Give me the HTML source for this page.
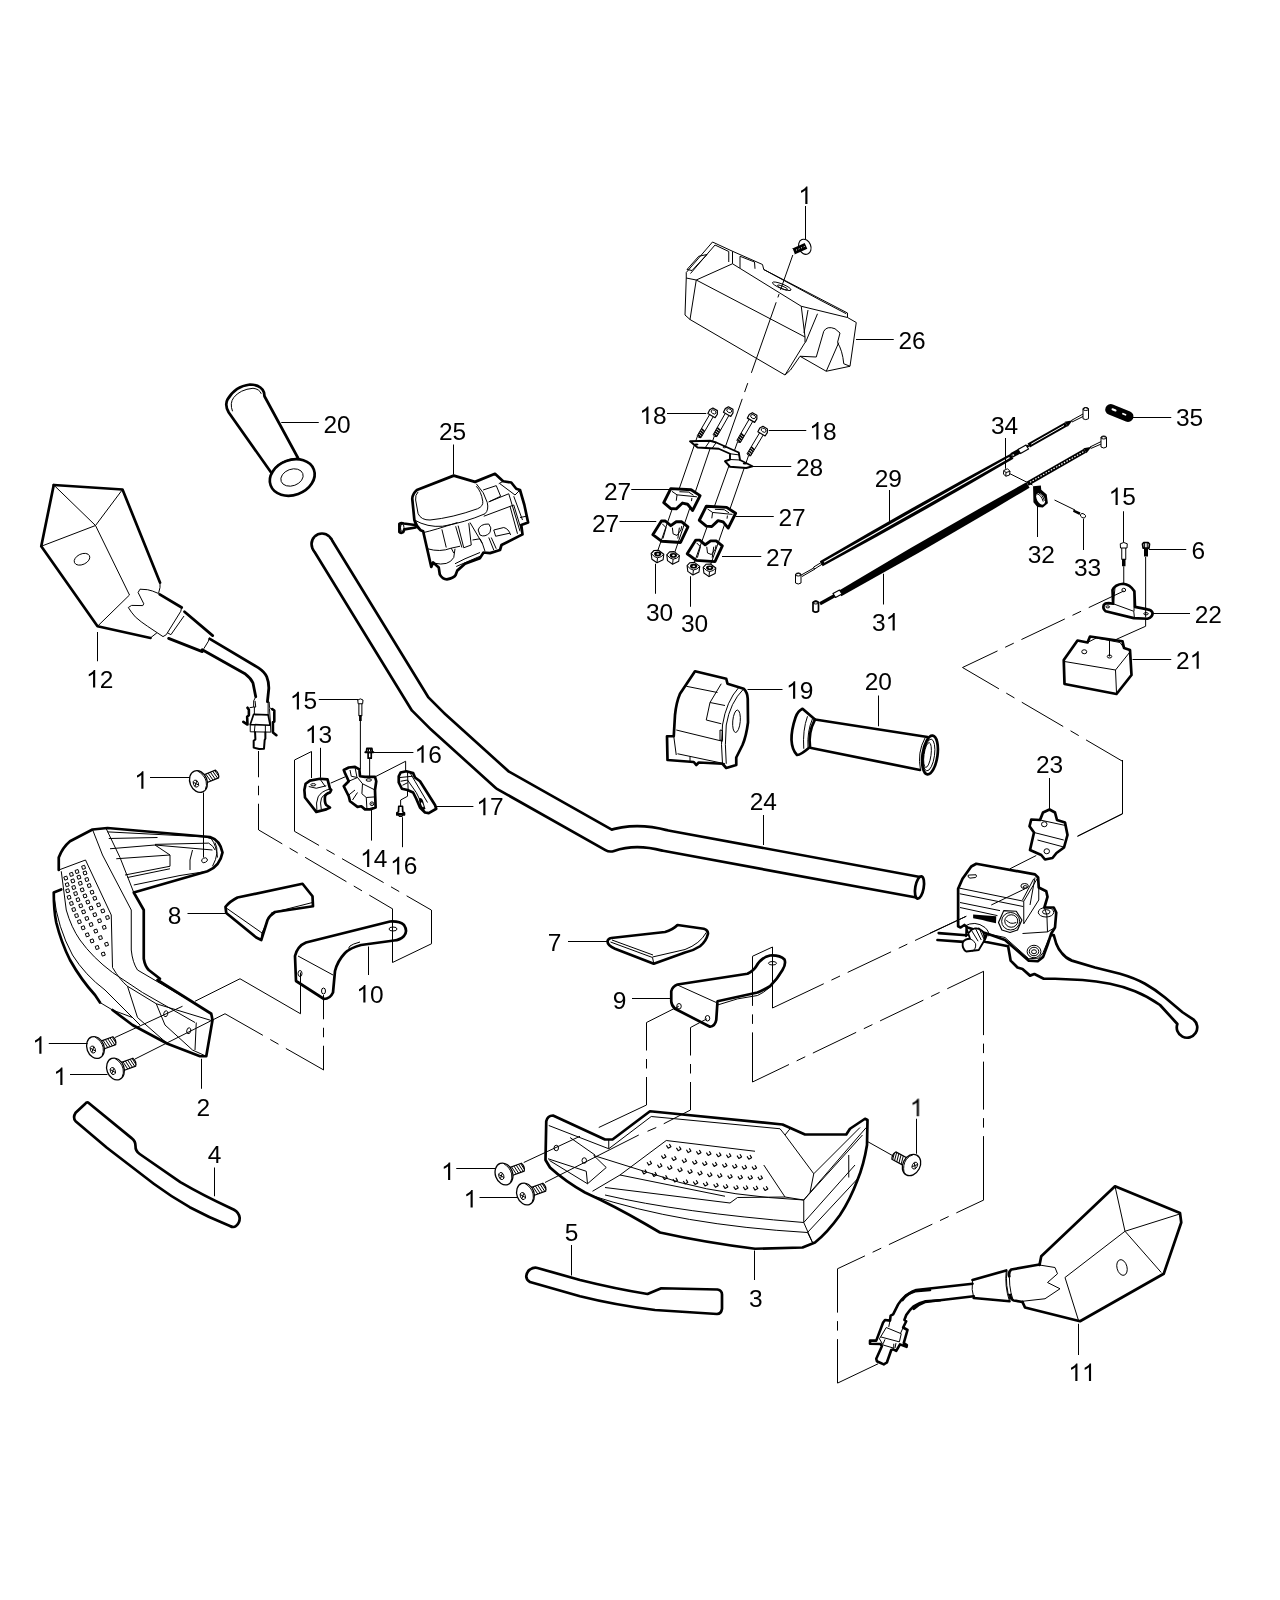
<!DOCTYPE html>
<html><head><meta charset="utf-8"><title>Parts diagram</title>
<style>
html,body{margin:0;padding:0;background:#fff}
body{width:1280px;height:1600px;overflow:hidden;font-family:"Liberation Sans",sans-serif}
svg{display:block}
.k{fill:none;stroke:#000;stroke-width:2.7;stroke-linejoin:round;stroke-linecap:round;vector-effect:non-scaling-stroke}
.m{fill:none;stroke:#000;stroke-width:1.7;stroke-linejoin:round;stroke-linecap:round;vector-effect:non-scaling-stroke}
.n{fill:none;stroke:#000;stroke-width:1;stroke-linejoin:round;vector-effect:non-scaling-stroke}
.d{fill:none;stroke:#000;stroke-width:1;stroke-dasharray:46 9 10 9;vector-effect:non-scaling-stroke}
.dd{fill:none;stroke:#000;stroke-width:1;stroke-dasharray:26 8;vector-effect:non-scaling-stroke}
.w{fill:#fff}
.f{fill:#000;stroke:none}
text{font-family:"Liberation Sans",sans-serif;font-size:24.5px;fill:#000}
</style></head><body>
<svg width="1280" height="1600" viewBox="0 0 1280 1600">
<rect x="0" y="0" width="1280" height="1600" fill="#fff"/>
<!-- 00_defs.svg -->
<defs>
<!-- screw: head at origin, thread along +x -->
<g id="screw">
 <path class="n w" d="M5,-4.2 L20,-4.2 Q22.5,0 20,4.2 L5,4.2 Z" style="stroke-width:1.2"/>
 <path class="n" d="M9.5,-4.2 L11.5,4.2 M12,-4.2 L14,4.2 M14.5,-4.2 L16.5,4.2 M17,-4.2 L19,4.2 M19.3,-3.6 L20.8,2.8"/>
 <ellipse class="n w" cx="0" cy="0" rx="8.6" ry="11.2" style="stroke-width:1.3"/>
 <path class="n" d="M3,-10.2 Q8,-4 7.2,2.5 Q6.5,7 3.5,9.8"/>
 <ellipse class="n" cx="-3.2" cy="1" rx="2.5" ry="3.7"/>
 <path class="n" d="M-5,-1.2 L-1.4,3.2 M-5,3.2 L-1.4,-1.2"/>
</g>
</defs>

<!-- 10_mirror12.svg -->
<g transform="translate(30,470) scale(0.25)">
 <path class="k" d="M95,60 L370,78 L520,450"/>
 <path class="k" d="M95,60 L45,305 L270,625 L482,672"/>
 <path class="n" d="M95,60 L262,222 L370,78 M45,305 L262,222 L398,500 L270,625 M520,450 L520,470 L514,494"/>
 <ellipse class="n" cx="208" cy="357" rx="33" ry="21" transform="rotate(-25 208 357)"/>
</g>
<!-- ball cover, boot (1x coords) -->
<path class="n" d="M158.3,593.4 Q152,590.5 147.5,589.7 L140,589.2 L138.1,592.5 L143.75,603.75 L142.8,605.6 L131.6,605.4 L128.3,607.5 Q131,612 135.3,616.9 Q141,622 147.5,626.25 L163,636.6 L166.25,634.7 L180.8,611.25 L181.7,607 M150.3,638 L156.9,632.8 M184,616 L170.9,634.7 L167.5,632.8"/>
<path class="k" d="M159.7,594.4 L181.7,607.5 M184.5,611.7 L212.7,635.6 M168.6,638.4 L202.3,651.6" style="stroke-width:2.8"/>
<path class="n" d="M209.4,637.5 L208.4,641.2 L203.75,648.75"/>
<g transform="translate(220,650) scale(0.06873)">
 <path class="k" d="M-148,-162 L560,260 Q650,320 680,390 Q712,470 710,560 L690,750 M-258,-5 L370,350 Q450,410 480,480 L520,680" style="stroke-width:2.8"/>
 <path class="n" d="M520,680 L490,740 L490,830 L520,830 L510,740 M690,750 L715,755 L720,840 L760,860 M440,1085 L440,1190 L740,1195 L735,1095 M510,1085 L500,1190 M660,1095 L660,1195 M500,830 L500,935 M700,755 L700,945 M430,840 L490,830 M720,850 L735,1095"/>
 <path class="k" d="M400,840 L420,870 L420,950 L395,970 L400,1085 L340,1045 M760,860 L790,880 L790,1040 L770,1050 L770,1200 L820,1240" style="stroke-width:2.6"/>
 <path class="m" d="M490,935 L700,945 L730,1095 L440,1085 Z"/>
 <path class="k" d="M510,1195 L515,1300 L490,1320 L490,1420 L570,1440 L640,1435 L650,1310 L660,1290 L660,1195" style="stroke-width:2"/>
</g>
<use href="#screw" transform="translate(198.5,781.5) rotate(-22)"/>

<!-- 11_grip20a.svg -->
<g transform="translate(200,360) scale(0.25)">
 <path class="k" d="M288,455 L115,210 Q98,180 110,158 Q140,105 200,98 Q245,100 256,130 L258,145 L392,392"/>
 <path class="n" d="M130,205 Q118,172 135,150 Q160,118 212,113 Q238,116 245,135"/>
 <ellipse class="k w" cx="369" cy="470" rx="92" ry="70" transform="rotate(-20 369 470)"/>
 <ellipse class="n" cx="368" cy="470" rx="46" ry="33" transform="rotate(-20 368 470)"/>
 <path class="n" d="M292,440 Q320,398 392,392"/>
</g>

<!-- 12_handlebar.svg -->
<g>
 <path d="M322,544 L420,703.75 L437.5,721.25 L502.5,780 L610.6,841 Q635,832.5 665,840.5 L919.5,887.5" fill="none" stroke="#000" stroke-width="23.6" stroke-linecap="butt" stroke-linejoin="round"/>
 <circle cx="322" cy="544" r="11.8" fill="#000"/>
 <path d="M322,544 L420,703.75 L437.5,721.25 L502.5,780 L610.6,841 Q635,832.5 665,840.5 L919.5,887.5" fill="none" stroke="#fff" stroke-width="18.3" stroke-linecap="butt" stroke-linejoin="round"/>
 <circle cx="322" cy="544" r="9.15" fill="#fff"/>
 <ellipse cx="919.5" cy="887.5" rx="4.2" ry="11.3" transform="rotate(10 919.5 887.5)" class="k w"/>
</g>

<!-- 13_part25.svg -->
<g transform="translate(390,440) scale(0.125)">
 <path class="k w" d="M510,285 L215,400 Q180,430 178,470 L195,640 Q210,690 245,722 L265,730 L330,1015 L345,980 L390,1020 L398,1075 Q420,1115 455,1115 Q510,1105 525,1080 L538,1045 L600,990 L720,945 L748,900 L800,905 L880,880 L892,840 L1060,755 L1050,680 L1105,660 L1075,520 L1040,400 L1010,390 L970,340 L905,330 L840,270 L680,335 Z"/>
 <path class="k w" d="M205,700 L115,715 L105,738 Q90,748 75,735 L75,670 Q90,660 110,668 L200,680"/>
 <ellipse class="n" cx="98" cy="702" rx="14" ry="30"/>
 <path class="n" d="M690,370 Q730,410 742,490 Q748,530 700,550 Q500,622 320,640 Q250,642 225,590 L205,480 Q200,440 225,415"/>
 <path class="n" d="M195,640 Q300,700 420,690 Q600,660 760,590 Q792,560 778,500 Q758,420 690,350"/>
 <path class="n" d="M270,740 Q350,722 540,660 M415,715 L450,860 M525,690 L575,860 M545,685 L590,862 L650,840 L630,665 M640,660 L740,830 M300,870 Q400,900 490,865 L560,850 M350,985 Q470,1012 510,940 L520,870 M490,865 L510,905"/>
 <path class="n" d="M705,720 Q720,670 790,672 Q818,700 800,740 Q760,782 720,760 Z"/>
 <path class="n" d="M830,720 L910,700 Q950,710 965,760 M830,720 L845,770 L960,745"/>
 <path class="n" d="M745,400 L850,365 L885,450 L790,495 M790,495 L950,430 L1040,730 M750,610 L990,520 L1060,750 M960,530 L1020,750 M870,350 L905,330 M880,350 L1000,440 L1040,400 M990,450 L1060,640 M1040,620 L1090,610"/>
 <path class="n" d="M520,990 L600,950 L720,900 M530,1012 L720,930 M790,780 L830,880 M810,780 L850,870 M740,830 L760,890 M660,800 L720,790 L740,830"/>
</g>

<!-- 14_part26.svg -->
<g transform="translate(660,170) scale(0.25)">
 <path class="n" d="M210,288 L105,410 L105,432 L145,440 L290,375 L290,325 Z"/>
 <path class="n" d="M220,300 L122,414 M220,300 L275,326 L275,368"/>
 <path class="n" d="M155,345 L188,338 L128,402 L108,398 Z"/>
 <path class="n" d="M290,325 L410,378 L415,398 L750,572 L750,590 L785,610 L760,785 L665,805 L560,745"/>
 <path class="n" d="M320,345 L320,392 M320,345 L378,368 L380,395"/>
 <path class="n" d="M105,432 L100,580 L120,598 L500,820 L580,690 L580,668 L145,440 L120,598"/>
 <path class="n" d="M500,820 L522,800 L560,745 L625,748"/>
 <path class="n" d="M290,375 L565,545 L750,590 M565,545 L580,668 M592,560 L576,652 M630,575 L582,690 M415,398 L640,520 L745,575"/>
 <ellipse class="n" cx="487" cy="465" rx="40" ry="9" transform="rotate(22 487 465)"/>
 <ellipse class="n" cx="490" cy="470" rx="22" ry="5" transform="rotate(22 490 470)"/>
 <path class="n" d="M625,748 L655,645 Q668,622 700,635 L720,652 L710,690 Q730,722 735,775 L760,785 M665,805 L715,690"/>
</g>
<ellipse class="n w" cx="804.8" cy="246.8" rx="6" ry="7.8" transform="rotate(-22 804.8 246.8)" style="stroke-width:1.1"/>
<path d="M793.2,251.6 L806,245.8" stroke="#000" stroke-width="6.4" fill="none"/>
<path d="M792.2,249 L794.2,254.4" stroke="#fff" stroke-width="1.3" fill="none"/>
<path d="M796,250.2 L806.5,245.6" stroke="#fff" stroke-width="1" stroke-dasharray="1 1.8" fill="none"/>
<path class="n" style="stroke-dasharray:37 4.4 3.6 5.1 74.8 10.9 9.5 7.2 60" d="M792.8,255 L725.3,447"/>

<!-- 15_clamps.svg -->
<defs>
 <g id="bolt18">
  <path class="n w" d="M-2.1,2 L-2.1,27 Q0,29 2.1,27 L2.1,2 Z"/>
  <path class="n" d="M-2.1,19 L2.1,20 M-2.1,21.3 L2.1,22.3 M-2.1,23.6 L2.1,24.6 M-2.1,25.9 L2.1,26.9" style="stroke-width:1.6"/>
  <path class="n w" d="M-4.4,-1.5 L-2.6,-4.6 L2.6,-4.6 L4.4,-1.5 L4.2,2.6 L-4.2,2.6 Z" style="stroke-width:1.2"/>
  <ellipse class="n" cx="0" cy="-1.6" rx="2.6" ry="1.8"/>
 </g>
 <g id="clampU">
  <path class="k w" d="M90,0 L350,15 L465,90 L370,280 L305,200 L240,185 L160,260 L90,255 L0,180 Z" style="stroke-width:2.9"/>
  <path class="n" d="M105,35 L170,80 L425,105 M170,80 L160,155 M360,120 L355,160 M200,40 L320,45 L380,85"/>
 </g>
 <g id="clampL">
  <path class="k w" d="M110,0 L160,0 L230,60 L300,10 L370,10 L450,75 L355,275 L115,260 L0,175 Z" style="stroke-width:2.9"/>
  <path class="n" d="M120,35 L170,85 L130,225 M250,85 L260,165 L310,185 L360,115 L370,65 M340,85 L320,225"/>
 </g>
 <g id="nut30">
  <path class="n w" d="M-6.3,-2.5 L-5.6,3.2 L-0.5,6.8 L5.6,3.8 L6.3,-1.8 L1,-5.8 L-3.5,-5.5 Z" style="stroke-width:1.1"/>
  <path class="n" d="M-6.3,-2.5 Q-3,1.5 0,1.8 Q4,1.5 6.3,-1.8 M-0.5,6.8 L0,1.8"/>
  <ellipse class="f" cx="0.2" cy="-2" rx="3.6" ry="2.4"/>
  <ellipse cx="0.4" cy="-2" rx="1.4" ry="0.8" fill="#fff"/>
 </g>
</defs>
<use href="#clampL" transform="translate(652.8,521) scale(0.078125)"/>
<use href="#clampL" transform="translate(687.2,540.1) scale(0.078125)"/>
<path class="n" d="M697.5,436 L656.25,555 M714.5,435.5 L673,557.5 M737.5,442 L692.5,567.5 M748.75,455 L708.75,570"/>
<!-- bracket 28 -->
<g transform="translate(580,380) scale(0.25)">
 <path class="k w" style="stroke-width:1.9" d="M440,245 L520,243 L545,250 L635,290 L640,320 L690,345 L665,352 L600,347 L580,325 L600,318 L600,295 L555,275 L470,270 Z"/>
 <path class="n" d="M520,243 L500,272 M545,250 L528,274 M600,295 L640,300 M600,318 L640,320"/>
 <ellipse class="f" cx="465" cy="258" rx="9" ry="4"/>
 <ellipse class="f" cx="660" cy="334" rx="9" ry="4"/>
 <ellipse class="n" cx="578" cy="268" rx="6" ry="3"/>
</g>
<use href="#bolt18" transform="translate(712.8,413.3) rotate(30.3)"/>
<use href="#bolt18" transform="translate(728.4,412.1) rotate(29.6)"/>
<use href="#bolt18" transform="translate(752.3,418) rotate(30.2)"/>
<use href="#bolt18" transform="translate(762.8,431.6) rotate(31)"/>
<use href="#clampU" transform="translate(663.75,488.6) scale(0.078125)"/>
<use href="#clampU" transform="translate(699.3,506.2) scale(0.078125)"/>
<use href="#nut30" transform="translate(657.5,556)"/>
<use href="#nut30" transform="translate(673.1,557.4)"/>
<use href="#nut30" transform="translate(693.4,568.2)"/>
<use href="#nut30" transform="translate(709.5,569.8)"/>

<!-- 16_cables.svg -->
<path class="f" d="M822.67,566.33 Q919.03,514.27 1013.42,458.73 L1010.58,453.67 Q914.22,505.73 819.83,561.27 Z"/>
<path d="M824,562.2 L1009.5,457.6" stroke="#fff" stroke-width="1.2" fill="none"/>
<path class="f" d="M841.35,596.29 Q936.45,543.72 1029.55,487.69 L1026.45,482.31 Q931.35,534.88 838.25,590.91 Z"/>
<g transform="translate(790,390) scale(0.25)">
 <!-- cable 29 -->
 <path d="M886,262 L926,240" stroke="#000" stroke-width="5" fill="none" vector-effect="non-scaling-stroke"/>
 <ellipse cx="893" cy="260" rx="4" ry="3" fill="#fff"/>
 <path class="n" d="M920,243 L955,222" style="stroke-width:2.2"/>
 <path class="n w" d="M912,238 L944,220 L954,236 L922,254 Z" style="stroke-width:1.2"/>
 <path d="M955,222 L1105,137" stroke="#000" stroke-width="4.8" fill="none" vector-effect="non-scaling-stroke"/>
 <path d="M965,216.5 L1096,142" stroke="#fff" stroke-width="1" fill="none" vector-effect="non-scaling-stroke"/>
 <path class="f" d="M1099,127 L1131,121 L1111,147 Z"/>
 <path class="n" d="M1125,122 L1172,96 M1128,128 L1172,106"/>
 <path class="n w" d="M1172,75 L1172,115 Q1183,122 1194,115 L1194,75 Q1183,66 1172,75 Z"/>
 <ellipse class="n" cx="1183" cy="76" rx="11" ry="6"/>
 <path class="n" d="M125,690 L95,708 M128,697 L100,715 M98,706 Q88,712 100,716 M95,712 L45,740 M100,716 L48,746"/>
 <path class="n w" d="M22,738 L22,772 Q33,780 44,772 L44,738 Q33,728 22,738 Z"/>
 <ellipse class="n" cx="33" cy="738" rx="11" ry="6"/>
 <!-- cable 31 -->
 <path d="M950,375 L1180,243" stroke="#000" stroke-width="4.4" fill="none" vector-effect="non-scaling-stroke"/>
 <path d="M960,369 L1174,246.5" stroke="#fff" stroke-width="1.2" stroke-dasharray="1.5 1.5" fill="none" vector-effect="non-scaling-stroke"/>
 <path class="f" d="M1174,233 L1206,227 L1186,253 Z"/>
 <path class="n" d="M1200,228 L1245,206 M1203,234 L1245,216"/>
 <path class="n w" d="M1244,190 L1244,228 Q1255,236 1266,228 L1266,190 Q1255,182 1244,190 Z"/>
 <ellipse class="n" cx="1255" cy="190" rx="11" ry="6"/>
 <path d="M185,819 L120,855" stroke="#000" stroke-width="3.4" fill="none" vector-effect="non-scaling-stroke"/>
 <path class="n w" d="M172,814 L198,800 L208,816 L182,830 Z" style="stroke-width:1.2"/>
 <path class="m w" d="M92,850 L92,884 Q103,893 114,884 L114,850 Q103,840 92,850 Z"/>
 <ellipse class="n" cx="103" cy="850" rx="11" ry="6"/>
</g>

<!-- 17_rightsmall.svg -->
<g transform="translate(960,380) scale(0.25)">
 <!-- 35 spring -->
 <path d="M603,118 L672,146" stroke="#000" stroke-width="11" stroke-linecap="round" fill="none" vector-effect="non-scaling-stroke"/>
 <path d="M610,117 L622,122" stroke="#fff" stroke-width="2" stroke-linecap="round" fill="none" vector-effect="non-scaling-stroke"/>
 <path d="M652,135 L662,139" stroke="#fff" stroke-width="1.8" stroke-linecap="round" fill="none" vector-effect="non-scaling-stroke"/>
 <!-- 34 nut -->
 <path class="n w" d="M175,362 L190,355 L200,365 L198,380 L183,385 L174,376 Z"/>
 <path class="n" d="M183,385 L184,370 L175,362 M184,370 L200,365"/>
 <path class="n" d="M200,375 L290,420"/>
 <!-- 32 clip (12.8x coords offset 960,450 => 4x: x=X/3.2, y=280+Y/3.2) -->
 <g transform="translate(0,280) scale(0.3125)">
  <path class="f" d="M935,465 L1035,455 L1040,510 L1110,570 L1125,680 L1060,735 L990,730 L940,670 Z"/>
  <ellipse cx="1032" cy="625" rx="48" ry="80" transform="rotate(-28 1032 625)" fill="#fff"/>
  <path class="n" d="M985,560 Q1040,575 1065,660 M1000,545 Q1060,570 1080,650"/>
 </g>
 <path class="n" d="M378,480 L460,520"/>
 <!-- 33 screw -->
 <path class="f" d="M455,518 L482,530 L478,540 L452,527 Z"/>
 <ellipse class="n w" cx="492" cy="543" rx="11" ry="8" transform="rotate(30 492 543)"/>
 <!-- 15 bolt -->
 <path class="n w" d="M647,668 L647,718 L663,718 L663,668 Z"/>
 <path class="f" d="M648,715 L648,745 L662,745 L662,715 Z"/>
 <path class="n w" d="M641,655 Q655,645 669,655 L668,672 L642,672 Z"/>
 <path class="n" d="M655,745 L655,840"/>
 <!-- 6 bolt & 22 bracket in 8x coords -->
 <g transform="translate(560,400) scale(0.5)">
  <path class="n" d="M365,615 L365,1170 L130,1275"/>
  <path class="k w" d="M30,1000 Q40,985 70,985 L105,990 L100,880 Q120,835 185,830 Q240,835 275,890 L280,1015 L380,1035 Q410,1040 420,1060 Q425,1095 380,1110 L270,1105 L45,1050 Q20,1030 30,1000 Z"/>
  <path class="n" d="M105,990 L270,1050 L275,1100 M275,890 L272,1050 M120,860 L108,985"/>
  <ellipse class="n" cx="190" cy="880" rx="15" ry="14"/>
  <ellipse class="n" cx="62" cy="1015" rx="15" ry="8"/>
  <ellipse class="n" cx="368" cy="1070" rx="18" ry="9"/>
  <path class="n" d="M365,1040 L365,1100"/>
  <path class="f" d="M352,545 L352,612 L384,612 L384,545 Z"/>
  <path class="m w" d="M340,512 L350,500 L385,500 L396,512 L392,545 L345,545 Z"/>
  <path class="n" d="M357,500 L357,545 M378,500 L378,545"/>
 </g>
 <!-- 21 box -->
 <path class="k w" d="M415,1120 L470,1042 L510,1050 L520,1026 L650,1045 L656,1072 L680,1080 L686,1180 L626,1256 L418,1216 Z"/>
 <path class="n" d="M418,1126 L622,1160 L682,1085 M622,1160 L626,1252 M510,1050 L545,1032 L640,1050 L656,1072"/>
 <ellipse class="n" cx="497" cy="1087" rx="10" ry="8"/>
 <ellipse class="n" cx="598" cy="1106" rx="9" ry="6"/>
 <path class="n" d="M598,1106 L598,1042"/>
</g>

<!-- 18_part19_grip.svg -->
<g transform="translate(640,640) scale(0.25)">
 <!-- 19 switch housing -->
 <path class="k w" d="M220,125 L345,155 L350,175 L415,195 Q430,210 431,235 L432,330 Q425,385 410,420 L385,470 L385,500 L345,512 L330,495 L235,490 L225,500 L215,488 L110,480 L108,385 L135,385 L140,300 Q145,250 160,215 Z"/>
 <path class="n" d="M185,185 L310,210 M325,175 L280,250 L265,320 L325,335 M280,250 L340,262 M415,195 Q360,250 345,340 Q338,420 345,495 M395,190 Q345,245 330,340 Q322,420 330,495 M145,360 L330,405 M320,360 L320,400 L330,403 L330,362 Z M150,455 L340,495 M135,385 L145,460 M200,465 L200,488"/>
 <ellipse class="n" cx="386" cy="325" rx="15" ry="45" transform="rotate(5 386 325)"/>
 <!-- grip 20 right -->
 <path class="k w" d="M700,318 L1170,390 L1120,520 L685,430 Z" style="stroke-width:0"/>
 <path class="k" d="M700,318 L1150,388 M685,432 L1120,520"/>
 <path class="k w" d="M650,275 Q630,285 622,310 Q605,360 606,400 Q608,440 628,460 Q640,462 680,428 Q672,370 700,318 Z"/>
 <path class="n" d="M670,305 Q650,360 655,435 M690,315 Q668,365 672,430"/>
 <ellipse class="k w" cx="1160" cy="460" rx="30" ry="78" transform="rotate(8 1160 460)"/>
 <ellipse class="n" cx="1156" cy="460" rx="22" ry="64" transform="rotate(8 1156 460)"/>
 <ellipse class="n" cx="1150" cy="460" rx="14" ry="50" transform="rotate(8 1150 460)"/>
 <path class="n" d="M1140,392 Q1108,450 1122,520"/>
</g>

<!-- 19_part7_9.svg -->
<g transform="translate(520,880) scale(0.25)">
 <!-- 7 -->
 <path class="k w" d="M350,245 Q352,234 365,232 L580,208 Q610,200 630,180 L735,195 Q752,200 752,215 Q745,245 720,265 Q695,282 660,290 L535,335 L380,275 Q350,262 350,245 Z"/>
 <path class="n" d="M362,248 L530,310 L535,333 M530,308 L660,278 Q720,255 745,210 M368,240 L532,300"/>
 <!-- 9 -->
 <path class="k w" d="M605,445 Q610,425 630,418 L910,375 Q935,362 945,345 Q965,310 1000,302 Q1040,300 1058,318 Q1065,335 1050,360 Q1030,395 1000,425 Q975,440 950,450 L790,485 L785,560 Q780,585 760,587 L620,515 Q605,500 605,485 Z"/>
 <path class="n" d="M630,420 L785,490 M790,500 Q870,470 950,462 Q1000,440 1040,380"/>
 <ellipse class="n" cx="636" cy="505" rx="9" ry="11"/>
 <ellipse class="n" cx="750" cy="553" rx="9" ry="11"/>
 <ellipse class="n" cx="1010" cy="333" rx="16" ry="7"/>
</g>

<!-- 20_master.svg -->
<!-- part 23 -->
<g transform="translate(920,740) scale(0.25)">
 <path class="k w" d="M518,278 L492,290 L480,320 L445,318 L438,345 L456,370 L440,440 L485,460 L500,478 L530,472 L546,452 L576,430 L590,380 L580,330 L548,320 L540,290 Z"/>
 <path class="n" d="M456,370 L575,400 M480,320 L582,342 M470,400 L575,428"/>
 <ellipse class="n" cx="497" cy="337" rx="11" ry="10"/>
 <ellipse class="n" cx="507" cy="445" rx="11" ry="10"/>
 <path class="n" d="M465,462 L360,515 M630,385 L810,295 L810,80"/>
</g>
<g transform="translate(930,840) scale(0.125)">
 <!-- lever -->
 <path class="k w" d="M990,760 L1010,830 Q1030,880 1055,905 Q1085,945 1135,965 L1320,1020 L1520,1070 Q1640,1105 1720,1150 Q1800,1195 1880,1260 L2020,1378 L2108.7,1437 A82,82 0 1 1 1979,1472 L1840,1320 Q1740,1250 1640,1210 Q1540,1170 1440,1150 Q1330,1128 1220,1120 L1000,1110 L910,1110 L835,1072 L800,1085 L740,1032 L700,1020 L645,965 L625,850 L430,812 L460,740 L600,780 Z"/>
 <!-- body -->
 <path class="k w" d="M370,190 L840,275 L865,300 L870,380 L930,410 L940,455 L915,540 L990,540 L1010,580 L1000,700 L970,748 L940,840 L905,935 L862,970 L790,965 L600,800 L460,750 L300,700 L275,680 L245,700 L225,690 L225,390 L260,310 L330,212 Z"/>
 <path class="n" d="M235,385 L750,490 L862,302 M238,430 L745,532 M240,500 L560,565 M240,540 L540,605 M750,490 L750,670 M750,670 L870,480 L870,380 M800,520 L840,300 M740,480 L830,310 M490,520 L740,400 L760,390"/>
 <path class="n" d="M305,282 Q300,300 320,305 L365,300 Q378,290 368,278 L320,280 Z"/>
 <ellipse class="n" cx="757" cy="368" rx="30" ry="20"/>
 <ellipse class="n" cx="762" cy="375" rx="16" ry="10"/>
 <path class="n" d="M590,565 L690,570 L735,640 L700,720 L640,740 L575,720 L548,660 Z" style="stroke-width:1.2"/>
 <ellipse class="n" cx="645" cy="650" rx="72" ry="70"/>
 <ellipse class="n" cx="650" cy="648" rx="52" ry="50"/>
 <path class="n" d="M610,640 Q640,680 690,660"/>
 <path class="f" d="M345,595 L530,610 L528,665 L455,650 L420,640 L345,625 Z"/>
 <ellipse class="n" cx="928" cy="578" rx="62" ry="38"/>
 <ellipse class="n" cx="930" cy="575" rx="30" ry="18"/>
 <path class="n" d="M935,600 L940,735 L740,748 M915,540 L935,600 M1000,700 L940,735"/>
 <ellipse class="n" cx="832" cy="892" rx="55" ry="50"/>
 <ellipse class="n" cx="832" cy="892" rx="38" ry="34"/>
 <ellipse class="n" cx="832" cy="894" rx="20" ry="16"/>
 <path class="n" d="M460,750 L600,780 L790,950 L870,945 L905,900 L950,790"/>
 <!-- banjo bolt -->
 <path class="k" d="M70,745 L290,762 M60,800 L270,815"/>
 <path class="k w" d="M290,700 L288,770 L330,720 Q380,690 420,730 Q445,770 430,812 L390,880 L290,892 Q255,870 262,820 Q280,790 320,790 Z" style="stroke-width:1.8"/>
 <path class="n" d="M275,690 Q360,640 440,700 Q480,740 470,770 M320,790 Q350,800 365,830 Q370,870 340,890 M330,720 L385,810 M360,700 L410,800 M390,700 L430,790"/>
 <path class="n" d="M0,745 L290,610"/>
</g>

<!-- 21_guard2.svg -->
<g transform="translate(20,810) scale(0.25)">
 <!-- guard 2 -->
 <path class="w" d="M290,78 L350,72 L760,108 Q800,120 810,170 Q800,225 750,245 L455,330 L495,400 L495,595 L515,640 L765,815 L770,840 L745,985 L720,985 L590,935 L450,860 L300,740 L200,600 L145,450 L135,330 L165,320 L155,240 L155,190 L200,125 Z"/>
 <path class="k" d="M155,240 L155,190 Q170,150 200,125 L290,78 L350,72 L760,108 Q800,120 810,170 Q800,225 750,245 L455,330 L495,400 L495,595 Q500,625 515,640 L560,675"/>
 <path class="k" d="M550,680 L765,815 L770,840 L745,985 L720,985 L590,935 L450,860 L370,800"/>
 <path class="k" d="M165,318 L135,330 Q135,400 145,450 Q165,530 200,600 Q245,680 300,740 L320,770"/>
 <path class="n" d="M290,78 L330,180 L445,400 L445,560 Q450,610 470,640 L700,775 L765,815 M345,75 L400,190 L455,330 M155,240 L262,200 L365,420 L370,630 M165,245 L185,400 Q205,470 240,520 Q290,590 370,650 L490,730 M135,340 Q150,470 210,580 Q260,660 340,720 L480,860 M370,630 Q400,680 430,705 L545,775 L765,842 M430,705 L470,830 L590,935 M545,775 L580,860 L690,960 L745,985 M705,850 L700,960 M490,730 L700,850 M320,770 L370,800 L450,830"/>
 <path class="n" d="M360,155 L540,140 L770,160 M540,140 L600,180 L600,225 L420,260 M385,195 L600,180 M690,160 Q675,200 680,240 M455,300 L640,262 L750,245 M430,270 L600,235 M780,130 Q800,170 770,225"/>
 <path class="n" d="M350,87.5 L740,107.5 L765,115 Q785,140 790,190 M355,114 L550,110 M540,137.5 L755,132.5 Q775,145 780,160"/>
 <ellipse class="n" cx="738" cy="201" rx="12" ry="9" transform="rotate(-25 738 201)"/>
 <ellipse class="n" cx="583" cy="815" rx="8" ry="12" transform="rotate(15 583 815)"/>
 <ellipse class="n" cx="675" cy="883" rx="8" ry="12" transform="rotate(15 675 883)"/>
 <!-- 8 pad -->
 <path class="k w" d="M822,387 Q840,365 870,350 L1130,295 L1170,345 L1172,385 L1020,408 Q1000,420 990,440 L965,520 L945,510 L825,412 Z"/>
 <path class="n" d="M828,394 L968,492 L965,518 M968,492 L1000,420 M1005,412 L1170,370"/>
 </g>
<g>
 <!-- 4 strip -->
 <path class="k w" d="M88.1,1102.5 L131.9,1138.4 Q135.5,1141 135.5,1146 Q135.3,1151 139.7,1154 L180.3,1182.2 Q205,1196.5 228.75,1207.2 L234,1209.8 Q239,1212.5 239.7,1218 Q239.7,1223 236,1226 Q233.5,1228 230,1226 Q209,1217.5 189.7,1207.2 Q171,1196.5 153.75,1183.75 L106.9,1147.8 L75.6,1121.25 Q72.5,1117.5 75.6,1112.7 L85,1104 Q86.5,1102 88.1,1102.5 Z"/>
</g>
<!-- screws guard2 -->
<use href="#screw" transform="translate(95.5,1047.5) rotate(-20)"/>
<use href="#screw" transform="translate(115.5,1069) rotate(-20)"/>
<path class="n" d="M115,1037.5 L182.5,1006.25 M135,1059 L225,1013.75"/>
<!-- part 10 -->
<g transform="translate(0,800) scale(0.5)">
 <path class="k w" d="M590,312 Q595,292 612,285 L780,243 Q800,242 808,250 Q816,262 808,272 Q800,280 788,281 L722,290 Q700,296 690,306 Q675,322 670,342 L666,385 Q660,398 648,398 L592,362 Z"/>
 <path class="n" d="M596,312 L666,350 M700,300 Q690,292 720,284"/>
 <ellipse class="n" cx="786" cy="258" rx="8" ry="4"/>
 <ellipse class="n" cx="600" cy="347" rx="4" ry="6"/>
 <ellipse class="n" cx="647" cy="382" rx="4" ry="6"/>
</g>

<!-- 22_parts13_17.svg -->
<g transform="translate(270,670) scale(0.1875)">
 <!-- 15 bolt -->
 <path class="n w" d="M474,175 L474,245 L490,245 L490,175 Z"/>
 <path class="f" d="M475,240 L475,272 L489,272 L489,240 Z"/>
 <path class="n w" d="M468,160 Q482,148 496,160 L494,180 L470,180 Z"/>
 <path class="n" d="M482,272 L482,530"/>
</g>
<g transform="translate(290,740) scale(0.125)">
 <!-- 16 top bolt -->
 <path class="n" d="M637,145 L637,290"/>
 <path class="m w" d="M625,100 L625,145 L650,145 L650,100 Z"/>
 <path class="k w" d="M615,68 L655,68 L658,92 L668,98 L602,98 L612,92 Z" style="stroke-width:1.8"/>
 <path class="n" d="M628,68 L628,92 M644,68 L644,92"/>
 <!-- 13 -->
 <path class="k w" d="M125,350 L160,325 L240,310 L300,315 L320,390 L330,400 L320,420 Q285,430 280,450 Q275,500 290,520 L320,540 L290,555 L210,575 L120,460 L115,400 Z" style="stroke-width:2.7"/>
 <path class="n" d="M150,372 L210,386 L290,366 M240,312 L282,372 M215,562 Q205,500 225,455 Q250,410 318,392 M250,552 Q238,500 252,465 Q265,440 290,430"/>
 <ellipse class="n" cx="186" cy="358" rx="20" ry="9"/>
 <!-- 14 -->
 <path class="k w" d="M430,240 L470,220 L520,215 L555,235 L560,290 L600,295 L680,295 L690,330 L680,400 L685,540 L640,555 L600,555 L570,530 L540,535 L480,490 L470,450 L430,370 L470,330 L440,265 Z" style="stroke-width:2.7"/>
 <path class="n" d="M470,330 L540,300 L580,350 L680,400 M480,240 L490,290 L540,300 M580,350 L575,430 L610,460 L680,455 M610,460 L615,545 M500,480 L540,420 M470,440 L520,400 M520,218 L535,295"/>
 <ellipse class="n" cx="630" cy="320" rx="22" ry="10"/>
 <circle class="n" cx="655" cy="510" r="15"/>
 <circle class="f" cx="655" cy="510" r="6"/>
 <!-- 17 -->
 <path class="k w" d="M870,290 L885,260 L930,250 L985,265 L1000,300 L1040,330 L1160,520 L1170,550 L1110,585 L1080,580 L1040,540 L1010,470 L985,420 L940,400 L895,390 L870,340 Z" style="stroke-width:2.7"/>
 <path class="n" d="M880,300 L980,290 M885,330 L940,320 L1010,420 L1060,520 M900,362 L940,342 M940,260 L945,400 M960,262 L1000,330 L1100,500"/>
 <path d="M1030,468 Q1048,455 1062,480 L1082,545 Q1075,568 1055,560 Q1040,540 1030,468 Z" fill="#000"/>
 <ellipse cx="1058" cy="518" rx="7" ry="22" fill="#fff" transform="rotate(-22 1058 518)"/>
 <!-- 16 bottom -->
 <path class="n" d="M940,400 L940,450 L885,480 L885,530"/>
 <path class="m w" d="M870,530 L900,530 L902,575 L915,582 L915,600 L855,600 L855,582 L868,575 Z"/>
 <path class="k" d="M855,592 L915,592" style="stroke-width:1.8"/>
 <path class="n" d="M868,600 L872,612 L898,612 L902,600"/>
 <!-- connectors -->
 <path class="n" d="M325,345 L440,295 M680,295 L925,170 L925,250"/>
</g>

<!-- 23_guard3.svg -->
<g transform="translate(430,1060) scale(0.25)">
 <path class="w" d="M465,235 L490,222 L700,318 L730,318 L880,205 L1410,258 L1500,298 L1665,298 L1680,275 L1740,235 L1750,240 L1748,340 L1710,480 L1640,620 L1540,730 L1490,750 L1300,755 L920,690 L620,530 L480,430 L462,400 Z"/>
 <path class="k" d="M462,400 L465,245 Q470,222 492,222 L700,318 L730,318 L880,205 L1410,258 L1500,298 L1665,298 L1680,275 L1740,235 L1750,240 L1748,340 Q1735,420 1710,480 Q1680,560 1640,620 Q1590,690 1540,730 L1490,750 L1300,755 Q1100,730 920,690 L860,655 Q740,585 620,530 Q540,485 480,430 Z"/>
 <!-- left end -->
 <path class="n" d="M475,262 L715,355 L715,320 M715,355 L885,226 L1400,275 L1420,300 L1440,275 M472,395 L625,445 L630,495 L478,402 M630,495 L705,430 L655,382 M655,382 L1000,490 Q1200,545 1495,560 M560,310 L660,380"/>
 <path class="n" d="M650,525 L760,460 L945,322 L1300,365 M760,460 L1180,545 M700,510 L1200,572 L1230,550 L1420,548 L1495,560 M700,540 Q1000,610 1495,650 M640,540 Q1000,660 1510,690 L1530,730 M1335,420 L1420,548"/>
 <!-- right end -->
 <path class="n" d="M1420,300 L1535,455 L1720,270 M1535,455 L1520,530 L1495,560 L1495,650 L1530,730 M1495,560 L1730,300 M1495,650 L1700,420 M1510,690 L1715,470 M1675,380 L1675,470 M1520,530 L1745,270"/>
 <ellipse class="n" cx="505" cy="352" rx="9" ry="11"/>
 <ellipse class="n" cx="617" cy="402" rx="9" ry="11"/>
 <!-- 5 strip -->
 <path class="k w" d="M385,865 Q388,845 400,838 Q415,828 430,832 L600,880 Q740,915 870,936 L925,913 L1150,918 Q1168,922 1168,938 L1168,995 Q1165,1015 1148,1016 L900,1000 Q740,980 600,945 L400,888 Q385,880 385,865 Z"/>
</g>
<use href="#screw" transform="translate(504,1174) rotate(-20)"/>
<use href="#screw" transform="translate(525.5,1194) rotate(-20)"/>
<use href="#screw" transform="translate(911.5,1165) rotate(208)"/>
<path class="n" d="M523.75,1162.5 L580,1136.25 M545,1182.5 L638.75,1135 M867,1141.25 L893.75,1156.25"/>

<!-- 24_mirror11.svg -->
<g transform="translate(860,1140) scale(0.25)">
 <path class="k" d="M718,500 L725,465 L1020,185 L1280,292 L1285,330 L1215,535 L880,725 L660,670 L650,648"/>
 <path class="n" d="M1020,185 L1060,365 L1282,295 M1060,365 L820,550 L875,725 M1060,365 L1205,530"/>
 <ellipse class="n" cx="1048" cy="510" rx="20" ry="32" transform="rotate(-15 1048 510)"/>
 <path class="n" d="M718,500 L780,510 L790,535 L750,570 L800,595 L740,635 L650,645"/>
 <path class="k" d="M718,498 L605,518 Q592,530 597,545 M600,620 Q605,640 615,642 L650,648"/>
 <path class="n" d="M588,525 Q580,580 600,640 M600,522 Q592,580 612,640"/>
 <path class="k" d="M450,560 L585,522 M455,632 L598,645"/>
 <path class="n" d="M450,560 Q445,600 455,632 M585,522 Q578,585 598,645"/>
 <path class="k" d="M450,575 L225,600 Q190,612 170,640 M455,625 L260,648 Q232,658 215,675"/>
</g>
<g transform="translate(860,1290) scale(0.0625)">
 <path class="k" d="M1120,0 L880,20 Q790,50 730,90 Q660,150 610,230 L530,390 L490,410 L480,490 L400,480 L370,520 L260,810 L160,810 L160,860 L330,865 L350,900 L260,1100 L270,1140 L380,1190 L430,1160 L500,960 L530,950 L580,975 L640,870 L745,910 L750,880 L700,850 L760,640 L690,600 L740,500 L710,480 L740,400 Q790,320 860,260 Q950,200 1050,180 L1280,165" style="stroke-width:2.6"/>
 <path class="n" d="M420,600 L660,700 L630,830 L330,750 Z M330,750 L310,780 L370,880 L540,930 L540,860 M400,790 L370,860 M575,850 L560,930 M480,490 L460,590 M690,600 L650,690"/>
 <path class="n" d="M290,1180 L-360,1490"/>
</g>

<!-- 30_dots.svg -->
<g id="dots2">
<rect class="n" x="64.23" y="876.47" width="3.1" height="3.3" transform="rotate(-18 65.78 878.12)"/>
<rect class="n" x="69.86" y="872.72" width="3.1" height="3.3" transform="rotate(-18 71.41 874.37)"/>
<rect class="n" x="75.48" y="869.91" width="3.1" height="3.3" transform="rotate(-18 77.03 871.56)"/>
<rect class="n" x="82.04" y="865.69" width="3.1" height="3.3" transform="rotate(-18 83.59 867.34)"/>
<rect class="n" x="65.64" y="883.04" width="3.1" height="3.3" transform="rotate(-18 67.19 884.69)"/>
<rect class="n" x="71.26" y="879.29" width="3.1" height="3.3" transform="rotate(-18 72.81 880.94)"/>
<rect class="n" x="77.36" y="875.54" width="3.1" height="3.3" transform="rotate(-18 78.91 877.19)"/>
<rect class="n" x="83.45" y="871.32" width="3.1" height="3.3" transform="rotate(-18 85.00 872.97)"/>
<rect class="n" x="66.11" y="889.13" width="3.1" height="3.3" transform="rotate(-18 67.66 890.78)"/>
<rect class="n" x="72.20" y="885.85" width="3.1" height="3.3" transform="rotate(-18 73.75 887.50)"/>
<rect class="n" x="78.76" y="881.63" width="3.1" height="3.3" transform="rotate(-18 80.31 883.28)"/>
<rect class="n" x="85.32" y="877.88" width="3.1" height="3.3" transform="rotate(-18 86.87 879.53)"/>
<rect class="n" x="67.51" y="895.69" width="3.1" height="3.3" transform="rotate(-18 69.06 897.34)"/>
<rect class="n" x="74.07" y="891.94" width="3.1" height="3.3" transform="rotate(-18 75.62 893.59)"/>
<rect class="n" x="80.64" y="888.19" width="3.1" height="3.3" transform="rotate(-18 82.19 889.84)"/>
<rect class="n" x="87.67" y="883.97" width="3.1" height="3.3" transform="rotate(-18 89.22 885.62)"/>
<rect class="n" x="69.86" y="901.79" width="3.1" height="3.3" transform="rotate(-18 71.41 903.44)"/>
<rect class="n" x="76.42" y="898.04" width="3.1" height="3.3" transform="rotate(-18 77.97 899.69)"/>
<rect class="n" x="83.45" y="894.29" width="3.1" height="3.3" transform="rotate(-18 85.00 895.94)"/>
<rect class="n" x="90.48" y="890.54" width="3.1" height="3.3" transform="rotate(-18 92.03 892.19)"/>
<rect class="n" x="72.20" y="907.88" width="3.1" height="3.3" transform="rotate(-18 73.75 909.53)"/>
<rect class="n" x="79.23" y="904.13" width="3.1" height="3.3" transform="rotate(-18 80.78 905.78)"/>
<rect class="n" x="86.26" y="900.38" width="3.1" height="3.3" transform="rotate(-18 87.81 902.03)"/>
<rect class="n" x="93.29" y="896.63" width="3.1" height="3.3" transform="rotate(-18 94.84 898.28)"/>
<rect class="n" x="75.01" y="913.97" width="3.1" height="3.3" transform="rotate(-18 76.56 915.62)"/>
<rect class="n" x="82.04" y="910.22" width="3.1" height="3.3" transform="rotate(-18 83.59 911.87)"/>
<rect class="n" x="89.54" y="906.47" width="3.1" height="3.3" transform="rotate(-18 91.09 908.12)"/>
<rect class="n" x="97.04" y="903.19" width="3.1" height="3.3" transform="rotate(-18 98.59 904.84)"/>
<rect class="n" x="77.82" y="920.07" width="3.1" height="3.3" transform="rotate(-18 79.37 921.72)"/>
<rect class="n" x="85.32" y="916.79" width="3.1" height="3.3" transform="rotate(-18 86.87 918.44)"/>
<rect class="n" x="93.29" y="913.04" width="3.1" height="3.3" transform="rotate(-18 94.84 914.69)"/>
<rect class="n" x="101.26" y="909.29" width="3.1" height="3.3" transform="rotate(-18 102.81 910.94)"/>
<rect class="n" x="81.57" y="926.16" width="3.1" height="3.3" transform="rotate(-18 83.12 927.81)"/>
<rect class="n" x="89.54" y="922.88" width="3.1" height="3.3" transform="rotate(-18 91.09 924.53)"/>
<rect class="n" x="97.98" y="919.13" width="3.1" height="3.3" transform="rotate(-18 99.53 920.78)"/>
<rect class="n" x="105.95" y="915.85" width="3.1" height="3.3" transform="rotate(-18 107.50 917.50)"/>
<rect class="n" x="85.79" y="933.19" width="3.1" height="3.3" transform="rotate(-18 87.34 934.84)"/>
<rect class="n" x="94.23" y="929.44" width="3.1" height="3.3" transform="rotate(-18 95.78 931.09)"/>
<rect class="n" x="102.67" y="925.69" width="3.1" height="3.3" transform="rotate(-18 104.22 927.34)"/>
<rect class="n" x="90.48" y="939.28" width="3.1" height="3.3" transform="rotate(-18 92.03 940.93)"/>
<rect class="n" x="98.92" y="936.00" width="3.1" height="3.3" transform="rotate(-18 100.47 937.65)"/>
<rect class="n" x="95.64" y="945.85" width="3.1" height="3.3" transform="rotate(-18 97.19 947.50)"/>
<rect class="n" x="105.01" y="942.57" width="3.1" height="3.3" transform="rotate(-18 106.56 944.22)"/>
<rect class="n" x="101.73" y="952.41" width="3.1" height="3.3" transform="rotate(-18 103.28 954.06)"/>
</g>
<g id="dots3">
<path class="n" d="M-1.9,-1.6 L-1.2,1.7 L1.9,1.1 L1.3,-1.9" transform="translate(668.75,1146.25) rotate(-20)" style="stroke-width:1.15"/>
<path class="n" d="M-1.9,-1.6 L-1.2,1.7 L1.9,1.1 L1.3,-1.9" transform="translate(678.75,1148.75) rotate(-20)" style="stroke-width:1.15"/>
<path class="n" d="M-1.9,-1.6 L-1.2,1.7 L1.9,1.1 L1.3,-1.9" transform="translate(688.75,1150.62) rotate(-20)" style="stroke-width:1.15"/>
<path class="n" d="M-1.9,-1.6 L-1.2,1.7 L1.9,1.1 L1.3,-1.9" transform="translate(698.75,1152.25) rotate(-20)" style="stroke-width:1.15"/>
<path class="n" d="M-1.9,-1.6 L-1.2,1.7 L1.9,1.1 L1.3,-1.9" transform="translate(708.75,1153.50) rotate(-20)" style="stroke-width:1.15"/>
<path class="n" d="M-1.9,-1.6 L-1.2,1.7 L1.9,1.1 L1.3,-1.9" transform="translate(718.75,1154.75) rotate(-20)" style="stroke-width:1.15"/>
<path class="n" d="M-1.9,-1.6 L-1.2,1.7 L1.9,1.1 L1.3,-1.9" transform="translate(728.75,1155.62) rotate(-20)" style="stroke-width:1.15"/>
<path class="n" d="M-1.9,-1.6 L-1.2,1.7 L1.9,1.1 L1.3,-1.9" transform="translate(739.38,1156.50) rotate(-20)" style="stroke-width:1.15"/>
<path class="n" d="M-1.9,-1.6 L-1.2,1.7 L1.9,1.1 L1.3,-1.9" transform="translate(749.38,1157.25) rotate(-20)" style="stroke-width:1.15"/>
<path class="n" d="M-1.9,-1.6 L-1.2,1.7 L1.9,1.1 L1.3,-1.9" transform="translate(663.75,1156.50) rotate(-20)" style="stroke-width:1.15"/>
<path class="n" d="M-1.9,-1.6 L-1.2,1.7 L1.9,1.1 L1.3,-1.9" transform="translate(674.00,1158.50) rotate(-20)" style="stroke-width:1.15"/>
<path class="n" d="M-1.9,-1.6 L-1.2,1.7 L1.9,1.1 L1.3,-1.9" transform="translate(684.38,1160.62) rotate(-20)" style="stroke-width:1.15"/>
<path class="n" d="M-1.9,-1.6 L-1.2,1.7 L1.9,1.1 L1.3,-1.9" transform="translate(694.75,1162.25) rotate(-20)" style="stroke-width:1.15"/>
<path class="n" d="M-1.9,-1.6 L-1.2,1.7 L1.9,1.1 L1.3,-1.9" transform="translate(704.75,1163.50) rotate(-20)" style="stroke-width:1.15"/>
<path class="n" d="M-1.9,-1.6 L-1.2,1.7 L1.9,1.1 L1.3,-1.9" transform="translate(714.75,1164.38) rotate(-20)" style="stroke-width:1.15"/>
<path class="n" d="M-1.9,-1.6 L-1.2,1.7 L1.9,1.1 L1.3,-1.9" transform="translate(724.75,1165.25) rotate(-20)" style="stroke-width:1.15"/>
<path class="n" d="M-1.9,-1.6 L-1.2,1.7 L1.9,1.1 L1.3,-1.9" transform="translate(734.75,1166.25) rotate(-20)" style="stroke-width:1.15"/>
<path class="n" d="M-1.9,-1.6 L-1.2,1.7 L1.9,1.1 L1.3,-1.9" transform="translate(744.38,1167.25) rotate(-20)" style="stroke-width:1.15"/>
<path class="n" d="M-1.9,-1.6 L-1.2,1.7 L1.9,1.1 L1.3,-1.9" transform="translate(754.38,1167.50) rotate(-20)" style="stroke-width:1.15"/>
<path class="n" d="M-1.9,-1.6 L-1.2,1.7 L1.9,1.1 L1.3,-1.9" transform="translate(649.38,1163.12) rotate(-20)" style="stroke-width:1.15"/>
<path class="n" d="M-1.9,-1.6 L-1.2,1.7 L1.9,1.1 L1.3,-1.9" transform="translate(659.75,1165.62) rotate(-20)" style="stroke-width:1.15"/>
<path class="n" d="M-1.9,-1.6 L-1.2,1.7 L1.9,1.1 L1.3,-1.9" transform="translate(669.75,1167.50) rotate(-20)" style="stroke-width:1.15"/>
<path class="n" d="M-1.9,-1.6 L-1.2,1.7 L1.9,1.1 L1.3,-1.9" transform="translate(680.00,1169.75) rotate(-20)" style="stroke-width:1.15"/>
<path class="n" d="M-1.9,-1.6 L-1.2,1.7 L1.9,1.1 L1.3,-1.9" transform="translate(690.00,1171.50) rotate(-20)" style="stroke-width:1.15"/>
<path class="n" d="M-1.9,-1.6 L-1.2,1.7 L1.9,1.1 L1.3,-1.9" transform="translate(700.00,1173.12) rotate(-20)" style="stroke-width:1.15"/>
<path class="n" d="M-1.9,-1.6 L-1.2,1.7 L1.9,1.1 L1.3,-1.9" transform="translate(709.75,1174.75) rotate(-20)" style="stroke-width:1.15"/>
<path class="n" d="M-1.9,-1.6 L-1.2,1.7 L1.9,1.1 L1.3,-1.9" transform="translate(719.75,1175.62) rotate(-20)" style="stroke-width:1.15"/>
<path class="n" d="M-1.9,-1.6 L-1.2,1.7 L1.9,1.1 L1.3,-1.9" transform="translate(730.00,1176.50) rotate(-20)" style="stroke-width:1.15"/>
<path class="n" d="M-1.9,-1.6 L-1.2,1.7 L1.9,1.1 L1.3,-1.9" transform="translate(740.25,1177.25) rotate(-20)" style="stroke-width:1.15"/>
<path class="n" d="M-1.9,-1.6 L-1.2,1.7 L1.9,1.1 L1.3,-1.9" transform="translate(750.25,1177.50) rotate(-20)" style="stroke-width:1.15"/>
<path class="n" d="M-1.9,-1.6 L-1.2,1.7 L1.9,1.1 L1.3,-1.9" transform="translate(760.25,1177.75) rotate(-20)" style="stroke-width:1.15"/>
<path class="n" d="M-1.9,-1.6 L-1.2,1.7 L1.9,1.1 L1.3,-1.9" transform="translate(644.38,1171.88) rotate(-20)" style="stroke-width:1.15"/>
<path class="n" d="M-1.9,-1.6 L-1.2,1.7 L1.9,1.1 L1.3,-1.9" transform="translate(654.38,1174.38) rotate(-20)" style="stroke-width:1.15"/>
<path class="n" d="M-1.9,-1.6 L-1.2,1.7 L1.9,1.1 L1.3,-1.9" transform="translate(665.00,1177.50) rotate(-20)" style="stroke-width:1.15"/>
<path class="n" d="M-1.9,-1.6 L-1.2,1.7 L1.9,1.1 L1.3,-1.9" transform="translate(675.25,1180.00) rotate(-20)" style="stroke-width:1.15"/>
<path class="n" d="M-1.9,-1.6 L-1.2,1.7 L1.9,1.1 L1.3,-1.9" transform="translate(685.62,1181.88) rotate(-20)" style="stroke-width:1.15"/>
<path class="n" d="M-1.9,-1.6 L-1.2,1.7 L1.9,1.1 L1.3,-1.9" transform="translate(695.62,1182.50) rotate(-20)" style="stroke-width:1.15"/>
<path class="n" d="M-1.9,-1.6 L-1.2,1.7 L1.9,1.1 L1.3,-1.9" transform="translate(705.62,1184.00) rotate(-20)" style="stroke-width:1.15"/>
<path class="n" d="M-1.9,-1.6 L-1.2,1.7 L1.9,1.1 L1.3,-1.9" transform="translate(716.00,1185.25) rotate(-20)" style="stroke-width:1.15"/>
<path class="n" d="M-1.9,-1.6 L-1.2,1.7 L1.9,1.1 L1.3,-1.9" transform="translate(725.62,1186.50) rotate(-20)" style="stroke-width:1.15"/>
<path class="n" d="M-1.9,-1.6 L-1.2,1.7 L1.9,1.1 L1.3,-1.9" transform="translate(736.00,1187.50) rotate(-20)" style="stroke-width:1.15"/>
<path class="n" d="M-1.9,-1.6 L-1.2,1.7 L1.9,1.1 L1.3,-1.9" transform="translate(745.62,1187.75) rotate(-20)" style="stroke-width:1.15"/>
<path class="n" d="M-1.9,-1.6 L-1.2,1.7 L1.9,1.1 L1.3,-1.9" transform="translate(755.62,1188.12) rotate(-20)" style="stroke-width:1.15"/>
<path class="n" d="M-1.9,-1.6 L-1.2,1.7 L1.9,1.1 L1.3,-1.9" transform="translate(765.62,1188.50) rotate(-20)" style="stroke-width:1.15"/>
</g>

<!-- 90_asm.svg -->
<g id="asm">
<path class="n" d="M258.50,751.00 L258.50,777.25 M258.50,785.75 L258.50,795.25 M258.50,803.75 L258.50,830.00"/>
<path class="n" d="M258.75,830.00 L282.27,843.86 M289.59,848.18 L297.78,853.00 M305.10,857.31 L346.45,881.69 M353.77,886.00 L361.96,890.82 M369.28,895.14 L392.80,909.00"/>
<path class="n" d="M431.25,910.00 L406.60,895.81 M399.23,891.57 L390.99,886.83 M383.63,882.60 L342.02,858.65 M334.66,854.42 L326.42,849.68 M319.05,845.44 L294.40,831.25"/>
<path class="n" d="M225.00,1013.75 L262.86,1035.32 M270.25,1039.52 L278.50,1044.23 M285.89,1048.43 L323.75,1070.00"/>
<path class="n" d="M323.50,1070.00 L323.50,1045.75 M323.50,1037.25 L323.50,1027.75 M323.50,1019.25 L323.50,995.00"/>
<path class="n" d="M646.50,1105.00 L646.50,1077.00 M646.50,1068.50 L646.50,1059.00 M646.50,1050.50 L646.50,1022.50"/>
<path class="n" d="M690.50,1110.00 L690.50,1082.00 M690.50,1073.50 L690.50,1064.00 M690.50,1055.50 L690.50,1027.50"/>
<path class="n" d="M772.50,1008.00 L823.73,983.74 M831.42,980.10 L840.00,976.03 M847.68,972.40 L891.07,951.85 M898.75,948.22 L907.33,944.15 M915.02,940.51 L966.25,916.25"/>
<path class="n" d="M752.50,956.25 L752.50,1005.88 M752.50,1014.38 L752.50,1023.88 M752.50,1032.38 L752.50,1082.00"/>
<path class="n" d="M752.50,1082.00 L788.98,1064.53 M796.65,1060.86 L805.22,1056.75 M812.88,1053.08 L856.17,1032.35 M863.84,1028.68 L872.41,1024.57 M880.08,1020.90 L923.37,1000.17 M931.03,996.50 L939.60,992.39 M947.27,988.72 L983.75,971.25"/>
<path class="n" d="M983.50,971.25 L983.50,1035.12 M983.50,1043.62 L983.50,1053.12 M983.50,1061.62 L983.50,1109.62 M983.50,1118.12 L983.50,1127.62 M983.50,1136.12 L983.50,1200.00"/>
<path class="n" d="M983.75,1200.00 L956.33,1212.89 M948.63,1216.51 L940.04,1220.55 M932.34,1224.16 L888.91,1244.59 M881.21,1248.20 L872.62,1252.24 M864.92,1255.86 L837.50,1268.75"/>
<path class="n" d="M837.50,1268.75 L837.50,1312.62 M837.50,1321.12 L837.50,1330.62 M837.50,1339.12 L837.50,1383.00"/>
<path class="n" d="M1123.75,591.00 L1088.75,607.60 M1081.07,611.25 L1072.49,615.32 M1064.81,618.96 L1021.44,639.54 M1013.76,643.18 L1005.18,647.25 M997.50,650.90 L962.50,667.50"/>
<path class="n" d="M962.50,667.50 L998.93,688.84 M1006.26,693.14 L1014.46,697.94 M1021.79,702.24 L1063.21,726.51 M1070.54,730.81 L1078.74,735.61 M1086.07,739.91 L1122.50,761.25"/>
<path class="n" d="M203.5,792.5 L203.5,857.5"/>
<path class="n" d="M392.5,909 L392.5,962.5 L431.5,943.75 L431.5,910"/>
<path class="n" d="M311.5,778 L311.5,751.5 L294.5,760 L294.5,831.25"/>
<path class="n" d="M195,1001.25 L240,978.75 L300.5,1013.75 L300.5,972.5"/>
<path class="n" d="M598.75,1127.5 L646.5,1105 M646.5,1022.5 L678.75,1006.25"/>
<path class="n" d="M647.5,1131.25 L656.25,1127.5 M663.75,1123.75 L690.5,1110 M690.5,1027.5 L707,1018.75"/>
<path class="n" d="M752.5,956.25 L772.5,947 L772.5,1008"/>
<path class="n" d="M1122.5,761.25 L1122.5,813.75 L1077.5,836.25"/>
</g>

<g id="leaders">
<path class="n" d="M805.5,206 L805.5,239"/>
<path class="n" d="M856,339.5 L893.75,339.5"/>
<path class="n" d="M281.25,422.5 L318.75,422.5"/>
<path class="n" d="M453.5,444.5 L453.5,474.5"/>
<path class="n" d="M667,413.5 L706.25,413.5"/>
<path class="n" d="M768.75,430.5 L806.25,430.5"/>
<path class="n" d="M752.5,466.5 L791.25,466.5"/>
<path class="n" d="M631.25,489.5 L670,489.5"/>
<path class="n" d="M619.5,521.5 L656.25,521.5"/>
<path class="n" d="M735.5,516.5 L773.75,516.5"/>
<path class="n" d="M722,556.5 L761.25,556.5"/>
<path class="n" d="M655.5,563.75 L655.5,593.75"/>
<path class="n" d="M690.5,576.25 L690.5,606.75"/>
<path class="n" d="M889.5,490 L889.5,521.25"/>
<path class="n" d="M883.5,573.75 L883.5,604.5"/>
<path class="n" d="M1005.5,438 L1005.5,468.75"/>
<path class="n" d="M1132.5,417.5 L1171.25,417.5"/>
<path class="n" d="M1037.5,506.25 L1037.5,537"/>
<path class="n" d="M1083.5,518.75 L1083.5,550"/>
<path class="n" d="M1123.5,511.25 L1123.5,542.5"/>
<path class="n" d="M1148.75,549.5 L1186.25,549.5"/>
<path class="n" d="M1152.5,613.5 L1190,613.5"/>
<path class="n" d="M1132.5,659.5 L1171.25,659.5"/>
<path class="n" d="M747.5,689.5 L782.5,689.5"/>
<path class="n" d="M878.5,695.5 L878.5,726.25"/>
<path class="n" d="M1049.5,778 L1049.5,810"/>
<path class="n" d="M763.5,815 L763.5,845"/>
<path class="n" d="M97.5,632 L97.5,661.25"/>
<path class="n" d="M318.75,699.5 L358,699.5"/>
<path class="n" d="M320.5,747.8 L320.5,777.8"/>
<path class="n" d="M374,752.5 L413.4,752.5"/>
<path class="n" d="M436,806.5 L473.4,806.5"/>
<path class="n" d="M371.5,809.7 L371.5,840.6"/>
<path class="n" d="M402.5,817.2 L402.5,847.2"/>
<path class="n" d="M150,777.5 L190,777.5"/>
<path class="n" d="M187.5,913.5 L225,913.5"/>
<path class="n" d="M368.5,946.5 L368.5,975"/>
<path class="n" d="M568,941.5 L607.5,941.5"/>
<path class="n" d="M632,998.5 L671.25,998.5"/>
<path class="n" d="M48.75,1043.5 L87.5,1043.5"/>
<path class="n" d="M70,1074.5 L107.5,1074.5"/>
<path class="n" d="M201.5,1058.75 L201.5,1088.75"/>
<path class="n" d="M214.5,1167.5 L214.5,1196.25"/>
<path class="n" d="M571.5,1245 L571.5,1275.5"/>
<path class="n" d="M456.25,1168.5 L495.5,1168.5"/>
<path class="n" d="M479.5,1197.5 L517,1197.5"/>
<path class="n" d="M754.5,1250.5 L754.5,1280"/>
<path class="n" d="M916.5,1118.75 L916.5,1153.75"/>
<path class="n" d="M1078.5,1323.75 L1078.5,1355"/>
</g>
<g id="labels" style="opacity:0.999">
<path class="f" transform="translate(798.33,204) scale(0.011963,-0.011963)" d="M763 0H583V1147Q518 1085 412.5 1023Q307 961 223 930V1104Q374 1175 487 1276Q600 1377 647 1472H763Z"/>
<text x="898.50" y="349">2</text>
<text x="912.12" y="349">6</text>
<text x="323.50" y="432.5">2</text>
<text x="337.12" y="432.5">0</text>
<text x="439.00" y="440">2</text>
<text x="452.62" y="440">5</text>
<path class="f" transform="translate(639.33,424) scale(0.011963,-0.011963)" d="M763 0H583V1147Q518 1085 412.5 1023Q307 961 223 930V1104Q374 1175 487 1276Q600 1377 647 1472H763Z"/>
<text x="652.95" y="424">8</text>
<path class="f" transform="translate(809.33,439.5) scale(0.011963,-0.011963)" d="M763 0H583V1147Q518 1085 412.5 1023Q307 961 223 930V1104Q374 1175 487 1276Q600 1377 647 1472H763Z"/>
<text x="822.95" y="439.5">8</text>
<text x="796.00" y="476">2</text>
<text x="809.62" y="476">8</text>
<text x="604.00" y="499.5">2</text>
<text x="617.62" y="499.5">7</text>
<text x="592.00" y="532">2</text>
<text x="605.62" y="532">7</text>
<text x="778.50" y="526">2</text>
<text x="792.12" y="526">7</text>
<text x="766.00" y="566">2</text>
<text x="779.62" y="566">7</text>
<text x="646.00" y="620.5">3</text>
<text x="659.62" y="620.5">0</text>
<text x="681.00" y="632">3</text>
<text x="694.62" y="632">0</text>
<text x="874.75" y="487">2</text>
<text x="888.37" y="487">9</text>
<text x="872.00" y="630.5">3</text>
<path class="f" transform="translate(885.62,630.5) scale(0.011963,-0.011963)" d="M763 0H583V1147Q518 1085 412.5 1023Q307 961 223 930V1104Q374 1175 487 1276Q600 1377 647 1472H763Z"/>
<text x="991.00" y="433.75">3</text>
<text x="1004.62" y="433.75">4</text>
<text x="1176.00" y="425.5">3</text>
<text x="1189.62" y="425.5">5</text>
<text x="1027.75" y="562.5">3</text>
<text x="1041.37" y="562.5">2</text>
<text x="1074.00" y="575.5">3</text>
<text x="1087.62" y="575.5">3</text>
<path class="f" transform="translate(1108.58,505) scale(0.011963,-0.011963)" d="M763 0H583V1147Q518 1085 412.5 1023Q307 961 223 930V1104Q374 1175 487 1276Q600 1377 647 1472H763Z"/>
<text x="1122.20" y="505">5</text>
<text x="1191.50" y="558.75">6</text>
<text x="1194.75" y="622.5">2</text>
<text x="1208.37" y="622.5">2</text>
<text x="1176.00" y="668.75">2</text>
<path class="f" transform="translate(1189.62,668.75) scale(0.011963,-0.011963)" d="M763 0H583V1147Q518 1085 412.5 1023Q307 961 223 930V1104Q374 1175 487 1276Q600 1377 647 1472H763Z"/>
<path class="f" transform="translate(786.08,698.75) scale(0.011963,-0.011963)" d="M763 0H583V1147Q518 1085 412.5 1023Q307 961 223 930V1104Q374 1175 487 1276Q600 1377 647 1472H763Z"/>
<text x="799.70" y="698.75">9</text>
<text x="864.75" y="690">2</text>
<text x="878.37" y="690">0</text>
<text x="1036.00" y="773">2</text>
<text x="1049.62" y="773">3</text>
<text x="749.75" y="810">2</text>
<text x="763.37" y="810">4</text>
<path class="f" transform="translate(86.08,687.5) scale(0.011963,-0.011963)" d="M763 0H583V1147Q518 1085 412.5 1023Q307 961 223 930V1104Q374 1175 487 1276Q600 1377 647 1472H763Z"/>
<text x="99.70" y="687.5">2</text>
<path class="f" transform="translate(289.83,709.4) scale(0.011963,-0.011963)" d="M763 0H583V1147Q518 1085 412.5 1023Q307 961 223 930V1104Q374 1175 487 1276Q600 1377 647 1472H763Z"/>
<text x="303.45" y="709.4">5</text>
<path class="f" transform="translate(304.83,743) scale(0.011963,-0.011963)" d="M763 0H583V1147Q518 1085 412.5 1023Q307 961 223 930V1104Q374 1175 487 1276Q600 1377 647 1472H763Z"/>
<text x="318.45" y="743">3</text>
<path class="f" transform="translate(414.53,762.8) scale(0.011963,-0.011963)" d="M763 0H583V1147Q518 1085 412.5 1023Q307 961 223 930V1104Q374 1175 487 1276Q600 1377 647 1472H763Z"/>
<text x="428.15" y="762.8">6</text>
<path class="f" transform="translate(476.33,815.3) scale(0.011963,-0.011963)" d="M763 0H583V1147Q518 1085 412.5 1023Q307 961 223 930V1104Q374 1175 487 1276Q600 1377 647 1472H763Z"/>
<text x="489.95" y="815.3">7</text>
<path class="f" transform="translate(360.13,866.9) scale(0.011963,-0.011963)" d="M763 0H583V1147Q518 1085 412.5 1023Q307 961 223 930V1104Q374 1175 487 1276Q600 1377 647 1472H763Z"/>
<text x="373.75" y="866.9">4</text>
<path class="f" transform="translate(390.13,874.4) scale(0.011963,-0.011963)" d="M763 0H583V1147Q518 1085 412.5 1023Q307 961 223 930V1104Q374 1175 487 1276Q600 1377 647 1472H763Z"/>
<text x="403.75" y="874.4">6</text>
<path class="f" transform="translate(134.33,788.75) scale(0.011963,-0.011963)" d="M763 0H583V1147Q518 1085 412.5 1023Q307 961 223 930V1104Q374 1175 487 1276Q600 1377 647 1472H763Z"/>
<text x="167.75" y="923.75">8</text>
<path class="f" transform="translate(356.33,1002.5) scale(0.011963,-0.011963)" d="M763 0H583V1147Q518 1085 412.5 1023Q307 961 223 930V1104Q374 1175 487 1276Q600 1377 647 1472H763Z"/>
<text x="369.95" y="1002.5">0</text>
<text x="547.75" y="951.25">7</text>
<text x="612.75" y="1008.75">9</text>
<path class="f" transform="translate(32.33,1053.75) scale(0.011963,-0.011963)" d="M763 0H583V1147Q518 1085 412.5 1023Q307 961 223 930V1104Q374 1175 487 1276Q600 1377 647 1472H763Z"/>
<path class="f" transform="translate(53.33,1085) scale(0.011963,-0.011963)" d="M763 0H583V1147Q518 1085 412.5 1023Q307 961 223 930V1104Q374 1175 487 1276Q600 1377 647 1472H763Z"/>
<text x="196.50" y="1116.25">2</text>
<text x="207.75" y="1162.5">4</text>
<text x="564.75" y="1240.5">5</text>
<path class="f" transform="translate(441.08,1180) scale(0.011963,-0.011963)" d="M763 0H583V1147Q518 1085 412.5 1023Q307 961 223 930V1104Q374 1175 487 1276Q600 1377 647 1472H763Z"/>
<path class="f" transform="translate(463.58,1207.5) scale(0.011963,-0.011963)" d="M763 0H583V1147Q518 1085 412.5 1023Q307 961 223 930V1104Q374 1175 487 1276Q600 1377 647 1472H763Z"/>
<text x="749.00" y="1307">3</text>
<path class="f" transform="translate(909.83,1116.25) scale(0.011963,-0.011963)" d="M763 0H583V1147Q518 1085 412.5 1023Q307 961 223 930V1104Q374 1175 487 1276Q600 1377 647 1472H763Z"/>
<path class="f" transform="translate(1068.33,1381) scale(0.011963,-0.011963)" d="M763 0H583V1147Q518 1085 412.5 1023Q307 961 223 930V1104Q374 1175 487 1276Q600 1377 647 1472H763Z"/>
<path class="f" transform="translate(1081.95,1381) scale(0.011963,-0.011963)" d="M763 0H583V1147Q518 1085 412.5 1023Q307 961 223 930V1104Q374 1175 487 1276Q600 1377 647 1472H763Z"/>
</g>
</svg>
</body></html>
